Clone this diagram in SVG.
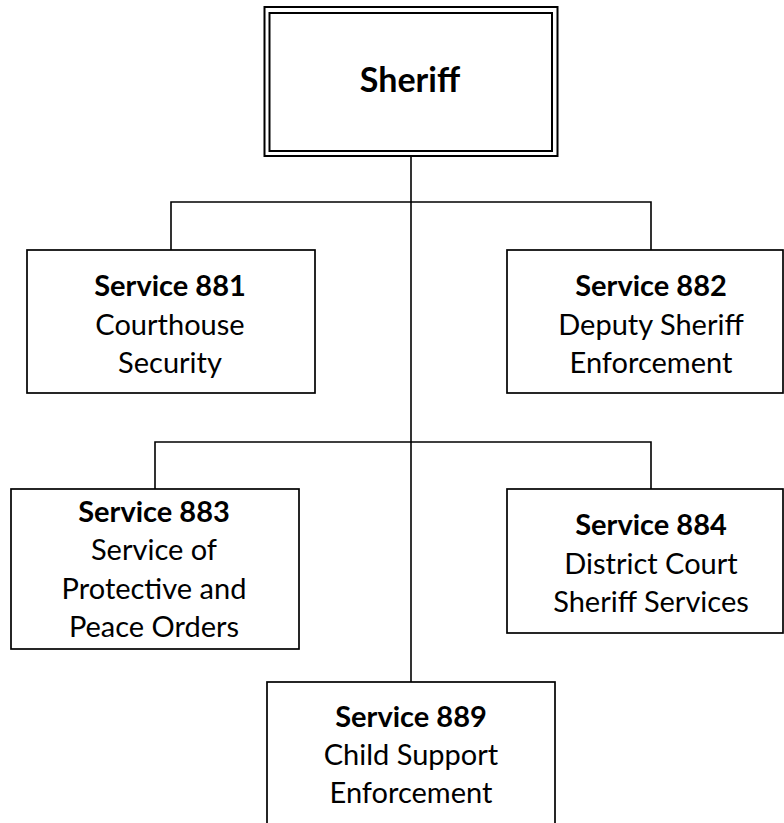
<svg xmlns="http://www.w3.org/2000/svg" width="784" height="823" viewBox="0 0 784 823">
<style>
.box{fill:#fff;stroke:#000;stroke-width:1.7}
.dbl{fill:none;stroke:#000;stroke-width:2}
.conn{fill:none;stroke:#000;stroke-width:1.6}
text{font-family:Lato,"Open Sans","Liberation Sans",sans-serif;font-size:29px;fill:#000;text-anchor:middle}
.b{font-weight:bold}
.title{font-weight:bold;font-size:34px}
</style>
<rect width="784" height="823" fill="#fff"/>
<g id="connectors">
<path class="conn" d="M411,156 V682"/>
<path class="conn" d="M171,250 V202 H651 V250"/>
<path class="conn" d="M155,489 V442 H651 V489"/>
</g>
<g id="sheriff">
<rect class="dbl" x="264.5" y="7" width="293" height="149" fill="#fff"/>
<rect class="dbl" x="269.5" y="13" width="282.5" height="138"/>
<text class="title" x="410" y="92">Sheriff</text>
</g>
<g id="s881">
<rect class="box" x="27" y="250" width="288" height="143"/>
<text class="b" x="170" y="296">Service 881</text>
<text x="170" y="334.5">Courthouse</text>
<text x="170" y="373">Security</text>
</g>
<g id="s882">
<rect class="box" x="507" y="250" width="276" height="143"/>
<text class="b" x="651" y="296">Service 882</text>
<text x="651" y="334.5">Deputy Sheriff</text>
<text x="651" y="373">Enforcement</text>
</g>
<g id="s883">
<rect class="box" x="11" y="489" width="288" height="160"/>
<text class="b" x="154" y="522">Service 883</text>
<text x="154" y="560">Service of</text>
<text x="154" y="598.5">Protective and</text>
<text x="154" y="637">Peace Orders</text>
</g>
<g id="s884">
<rect class="box" x="507" y="489" width="276" height="144"/>
<text class="b" x="651" y="535">Service 884</text>
<text x="651" y="573.5">District Court</text>
<text x="651" y="612">Sheriff Services</text>
</g>
<g id="s889">
<rect class="box" x="267" y="682" width="288" height="160"/>
<text class="b" x="411" y="727">Service 889</text>
<text x="411" y="765">Child Support</text>
<text x="411" y="803">Enforcement</text>
</g>
</svg>
